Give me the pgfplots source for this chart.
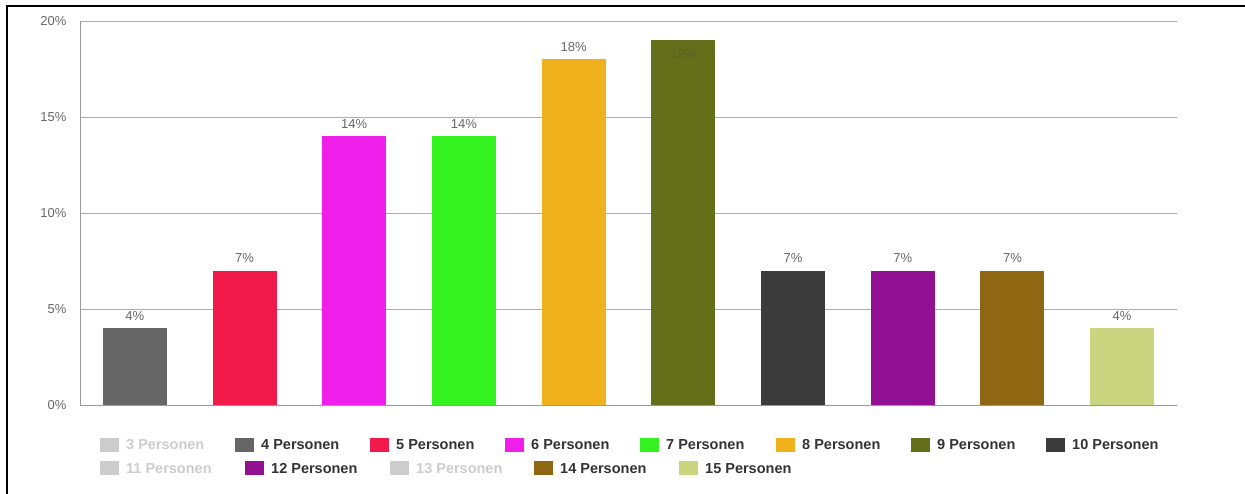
\documentclass[border=0pt]{standalone}
\usepackage{fontspec}
\setmainfont{Liberation Sans}
\usepackage{pgfplots}
\pgfplotsset{compat=1.18}
\definecolor{c4}{HTML}{666666}
\definecolor{c5}{HTML}{F21A4B}
\definecolor{c6}{HTML}{F01EEA}
\definecolor{c7}{HTML}{33F220}
\definecolor{c8}{HTML}{F0B21C}
\definecolor{c9}{HTML}{637019}
\definecolor{c10}{HTML}{3B3B3B}
\definecolor{c12}{HTML}{921192}
\definecolor{c14}{HTML}{8F6612}
\definecolor{c15}{HTML}{C9D67F}
\definecolor{cgrey}{HTML}{CCCCCC}
\definecolor{labgray}{HTML}{666666}
\definecolor{legtext}{HTML}{333333}
\begin{document}
\begin{tikzpicture}[x=1pt,y=1pt]
\path[use as bounding box] (0,0) rectangle (1245,494);
\draw[line width=2.6pt] (7,-2) -- (7,488) -- (1247,488);
\begin{axis}[
  at={(80pt,89pt)}, anchor=south west,
  scale only axis, width=1097pt, height=384pt,
  xmin=-0.5, xmax=9.5, ymin=0, ymax=20,
  ybar, bar width=64pt, bar shift=0pt,
  xtick=\empty,
  ytick={0,5,10,15,20},
  yticklabel={\pgfmathprintnumber{\tick}\%},
  /pgf/number format/assume math mode=true,
  yticklabel style={font=\fontsize{13}{13}\selectfont, text=labgray, xshift=-10pt},
  major tick length=0pt,
  axis x line*=bottom, axis y line*=left,
  axis line style={draw=gray!80, -},
  ymajorgrids, grid style={draw=gray!65, line width=0.8pt},
  nodes near coords={\pgfmathprintnumber{\pgfplotspointmeta}\%},
  nodes near coords style={font=\fontsize{13}{13}\selectfont, text=labgray, anchor=base, inner sep=0pt, yshift=8pt},
  clip=false,
]
\addplot[fill=c4, draw=none] coordinates {(0,4)};
\addplot[fill=c5, draw=none] coordinates {(1,7)};
\addplot[fill=c6, draw=none] coordinates {(2,14)};
\addplot[fill=c7, draw=none] coordinates {(3,14)};
\addplot[fill=c8, draw=none] coordinates {(4,18)};
\addplot[fill=c9, draw=none, nodes near coords style={yshift=-26pt, text={rgb,255:red,88;green,98;blue,40}}] coordinates {(5,19)};
\addplot[fill=c10, draw=none] coordinates {(6,7)};
\addplot[fill=c12, draw=none] coordinates {(7,7)};
\addplot[fill=c14, draw=none] coordinates {(8,7)};
\addplot[fill=c15, draw=none] coordinates {(9,4)};
\end{axis}
% legend
\tikzset{legt/.style={anchor=base west, inner sep=0pt, font=\fontsize{14.5}{14.5}\selectfont\bfseries}}
\foreach \x/\c/\t/\tc in {100/cgrey/3/cgrey, 235/c4/4/legtext, 370/c5/5/legtext, 505/c6/6/legtext, 640/c7/7/legtext, 776/c8/8/legtext, 911/c9/9/legtext, 1046/c10/10/legtext}{
  \fill[\c] (\x,42) rectangle (\x+19,56);
  \node[legt, text=\tc] at (\x+26,44) {\t\ Personen};
}
\foreach \x/\c/\t/\tc in {100/cgrey/11/cgrey, 245/c12/12/legtext, 390/cgrey/13/cgrey, 534/c14/14/legtext, 679/c15/15/legtext}{
  \fill[\c] (\x,19) rectangle (\x+19,33);
  \node[legt, text=\tc] at (\x+26,20) {\t\ Personen};
}
\end{tikzpicture}
\end{document}
